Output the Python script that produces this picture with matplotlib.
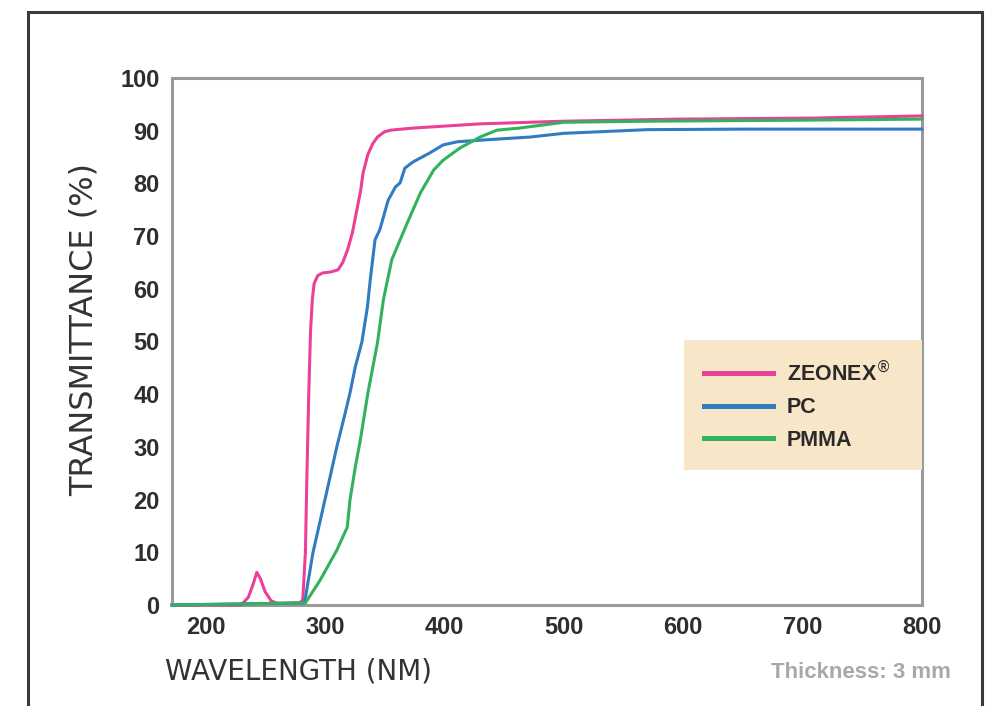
import matplotlib
matplotlib.use("Agg")
import matplotlib.pyplot as plt
from matplotlib.patches import Rectangle

# transmittance curves (wavelength nm, %)
zeonex_x = [172, 230, 236, 240, 243, 246, 250, 255, 260, 265, 279, 281.5, 283.7, 285, 286.5,
            288, 289.5, 291, 294, 298, 305, 311, 315, 319, 323, 330, 332, 336, 340, 344,
            350, 355, 374, 402, 430, 458, 500, 597, 709, 800]
zeonex_y = [0, 0, 1.5, 4, 6.2, 5, 2.5, 0.8, 0.3, 0.3, 0.4, 1, 10, 25, 40,
            52, 58, 61, 62.5, 63, 63.2, 63.6, 65, 67.4, 70.6, 78.7, 82, 85.5, 87.5, 88.8,
            89.8, 90.1, 90.5, 90.9, 91.3, 91.5, 91.8, 92.2, 92.4, 92.8]

pc_x = [172, 283, 290, 300, 310, 317, 321, 325.5, 331, 335.6, 338, 342, 346, 353, 359,
        363, 367, 374, 388, 399, 411, 430, 472, 500, 570, 650, 800]
pc_y = [0, 0.4, 9.9, 19.9, 30, 36.4, 40.2, 45.2, 49.9, 56.5, 61.7, 69.3, 71.2, 76.8, 79.3,
        80.1, 82.9, 84.1, 85.8, 87.3, 87.9, 88.2, 88.8, 89.5, 90.2, 90.3, 90.3]

pmma_x = [172, 283.7, 296, 310, 318.8, 321, 325.5, 329.7, 336, 344, 349, 356, 369, 380,
          391, 399, 413, 430, 444, 463, 500, 570, 700, 800]
pmma_y = [0, 0.4, 4.7, 10.4, 14.8, 19.9, 26.2, 31.3, 40.2, 49.7, 57.9, 65.5, 72.5, 78.2,
          82.5, 84.4, 86.7, 88.8, 90.1, 90.5, 91.6, 91.8, 92.0, 92.2]

labels = ["ZEONEX$^{®}$", "PC", "PMMA"]
colors = ["#ec3f97", "#2f7dc0", "#31b25d"]
x_ticks = [200, 300, 400, 500, 600, 700, 800]
y_ticks = [0, 10, 20, 30, 40, 50, 60, 70, 80, 90, 100]

sans = ["Liberation Sans", "DejaVu Sans"]

fig = plt.figure(figsize=(9.9, 7.06), dpi=100)
ax = fig.add_axes([172 / 990, 1 - 605 / 706, 750 / 990, 527 / 706])

# outer frame of the picture
fig.patches.append(Rectangle((28 / 990, -0.05), 954 / 990, 1.05 - 12 / 706,
                             transform=fig.transFigure, fill=False,
                             edgecolor="#3a3a3a", linewidth=2.2, clip_on=False))

for xs, ys, lab, c in zip([zeonex_x, pc_x, pmma_x], [zeonex_y, pc_y, pmma_y], labels, colors):
    ax.plot(xs, ys, color=c, lw=2.2, label=lab, clip_on=False, zorder=3)

ax.set_xlim(172, 800)
ax.set_ylim(0, 100)
ax.set_xticks(x_ticks)
ax.set_yticks(y_ticks)
ax.set_xticks([200, 300, 400, 500, 600, 700], minor=True)
ax.set_yticks(y_ticks[1:-1], minor=True)
ax.grid(which="minor", color="#d9d9d9", lw=1.6)
ax.tick_params(which="both", length=0)
ax.tick_params(axis="y", pad=9)
ax.tick_params(axis="x", pad=8)
for t in ax.get_xticklabels() + ax.get_yticklabels():
    t.set_family(sans)
    t.set_fontweight("bold")
    t.set_fontsize(17)
    t.set_color("#2e2e2e")

for s in ax.spines.values():
    s.set_color("#9a9a9a")
    s.set_linewidth(2.2)

ax.set_ylabel("TRANSMITTANCE (%)", fontsize=23, color="#333333", family="DejaVu Sans")
ax.yaxis.set_label_coords(-0.097, 0.522)
ax.set_xlabel("WAVELENGTH (NM)", fontsize=20, color="#333333", family="DejaVu Sans",
              ha="left", va="center")
ax.xaxis.set_label_coords(-0.009, -0.127)

fig.text(951 / 990, 1 - 673 / 706, "Thickness: 3 mm", ha="right", va="center",
         fontsize=16, fontweight="bold", color="#a8a8a8", family=sans)

leg = ax.legend(loc="upper left", bbox_to_anchor=(0.683, 0.275, 0.317, 0.228),
                mode="expand", frameon=True, fancybox=False, borderpad=0.9,
                handlelength=3.2, handletextpad=0.65, labelspacing=0.55,
                borderaxespad=0, prop={"family": sans, "weight": "bold", "size": 15.5})
leg.get_frame().set_facecolor("#f8e6c8")
leg.get_frame().set_edgecolor("none")
leg.get_frame().set_alpha(1)
for h in leg.legend_handles:
    h.set_linewidth(3.6)
for t in leg.get_texts():
    t.set_color("#2a2a2a")

fig.savefig("out.png", dpi=100)
